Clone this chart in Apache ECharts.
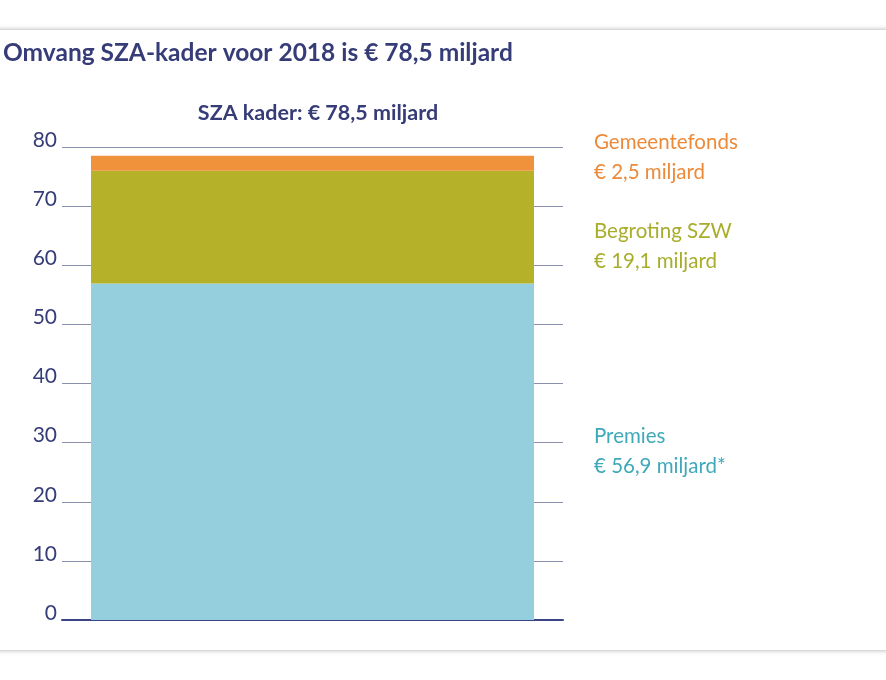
<!DOCTYPE html>
<html><head><meta charset="utf-8">
<script src="https://cdn.jsdelivr.net/npm/echarts@6/dist/echarts.min.js"></script>
<style>
html,body{margin:0;padding:0;background:#fff;width:886px;height:680px;overflow:hidden;}
#card{position:absolute;left:-10px;top:30px;width:906px;height:620px;background:#fff;box-shadow:0 0 5px rgba(0,0,0,0.35);}
#c{position:absolute;left:0;top:0;width:886px;height:680px;}
</style></head>
<body><div id="card"></div><div id="c"></div>
<script>
const categories = ['2018'];
const seriesNames = ['Premies', 'Begroting SZW', 'Gemeentefonds'];
const seriesValues = [[56.9], [19.1], [2.5]];
const valueLabels = ['€ 56,9 miljard*', '€ 19,1 miljard', '€ 2,5 miljard'];
const yTicks = [0, 10, 20, 30, 40, 50, 60, 70, 80];
const titleText = 'Omvang SZA-kader voor 2018 is € 78,5 miljard';
const subtitleText = 'SZA kader: € 78,5 miljard';

const barColors = ['#95CFDD', '#B5B22A', '#F0913C'];
const labelColors = ['#3FA9B9', '#A8AD2C', '#EC8A3A'];
const labelOffsets = [[0, 0], [0, 19], [0, -6]];
const navy = '#363C78';
const font = 'Lato, "Open Sans", sans-serif';

const chart = echarts.init(document.getElementById('c'), null, {renderer: 'canvas'});
chart.setOption({
  backgroundColor: 'transparent',
  animation: false,
  title: [
    {text: titleText, left: -2, top: 36, textStyle: {color: navy, fontSize: 24.5, fontWeight: 'bold', fontFamily: font}},
    {text: subtitleText, left: 313, textAlign: 'center', top: 97, textStyle: {color: navy, fontSize: 21.5, fontWeight: 'bold', fontFamily: font}}
  ],
  grid: {left: 62, right: 323, top: 147, bottom: 60, containLabel: false},
  xAxis: {
    type: 'category', data: categories,
    axisLine: {show: true, lineStyle: {color: '#3B4485', width: 2}},
    axisTick: {show: false}, axisLabel: {show: false}
  },
  yAxis: {
    type: 'value', min: yTicks[0], max: yTicks[yTicks.length - 1], interval: 10,
    axisLine: {show: false}, axisTick: {show: false},
    axisLabel: {color: navy, fontSize: 21, fontFamily: font, margin: 5, verticalAlign: 'bottom', lineHeight: 14,
      formatter: v => yTicks.includes(v) ? String(v) : ''},
    splitLine: {show: true, lineStyle: {color: '#8C90AC', width: 1}}
  },
  series: seriesNames.map((name, i) => ({
    name, type: 'bar', stack: 'total', data: seriesValues[i], barWidth: 443,
    itemStyle: {color: barColors[i]},
    label: {
      show: true, position: 'right', distance: 60, offset: labelOffsets[i],
      formatter: () => name + '\n' + valueLabels[i],
      color: labelColors[i], fontSize: 20.5, lineHeight: 30, fontFamily: font, align: 'left'
    }
  }))
});
</script></body></html>
